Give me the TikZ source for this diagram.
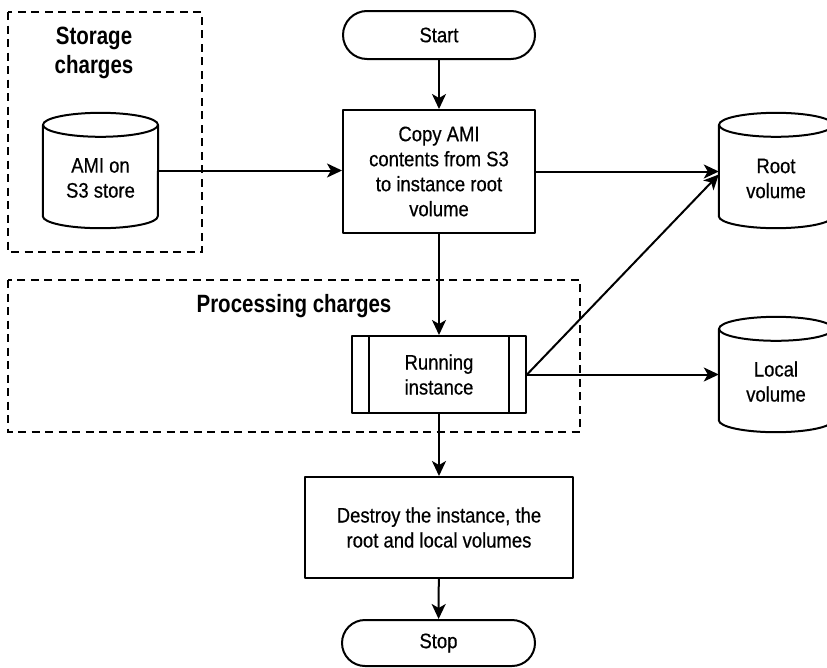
\documentclass[tikz,border=0pt]{standalone}
\usepackage{fontspec}
\setmainfont{Liberation Sans}[FakeStretch=0.88, FakeBold=0.5]
\newfontfamily\titlefont{Liberation Sans}[FakeStretch=0.82]
\usetikzlibrary{arrows.meta,shapes.misc,calc}
\newcommand\cylout[2]{%
  \draw[ln] ([yshift=-12pt]#1.north) ellipse [x radius=#2pt, y radius=12pt];
  \draw[ln] ([yshift=-12pt]#1.north west) -- ([yshift=12pt]#1.south west)
     arc[start angle=180, end angle=360, x radius=#2pt, y radius=12pt]
     -- ([yshift=-12pt]#1.north east);
}
\begin{document}
\begin{tikzpicture}[x=1pt,y=-1pt,
  ln/.style={line width=2pt, line join=round},
  txt/.style={font=\fontsize{21}{25}\selectfont, align=center, inner sep=0pt},
  ttl/.style={font=\titlefont\bfseries\fontsize{25}{29}\selectfont, align=center, inner sep=0pt},
  box/.style={ln, draw, rectangle, txt},
  pill/.style={ln, draw, rounded rectangle, txt},
  cyl/.style={draw=none, minimum width=#1, minimum height=115pt, inner sep=0pt},
  dbox/.style={line width=1.9pt, dash pattern=on 8pt off 5.5pt},
  arr/.style={ln, -{Stealth[length=15pt,width=14pt,inset=4pt]}}]
\useasboundingbox (0,0) rectangle (827,667);

% dashed regions
\draw[dbox] (8,12) rectangle (202,252);
\draw[dbox] (8,280) rectangle (580,432);
\node[ttl] (stt) at (94,53) {Storage\\charges};
\node[ttl] (ptt) at (294,306) {Processing charges};

% nodes
\node[pill, minimum width=192pt, minimum height=48pt] (start) at (439,35) {Start};
\node[box, minimum width=192pt, minimum height=123pt] (copy) at (439,171.5) {Copy AMI\\contents from S3\\to instance root\\volume};
\node[box, minimum width=174pt, minimum height=77pt] (run) at (439,374.5) {Running\\instance};
\draw[ln] ([xshift=18pt]run.north west) -- ([xshift=18pt]run.south west);
\draw[ln] ([xshift=-18pt]run.north east) -- ([xshift=-18pt]run.south east);
\node[box, minimum width=268pt, minimum height=101pt] (destroy) at (439,527.5) {Destroy the instance, the\\root and local volumes};
\node[pill, minimum width=193pt, minimum height=46pt] (stop) at (438.5,643) {Stop};

% cylinders
\node[cyl=115pt] (ami) at (100.5,170.5) {};
\cylout{ami}{57.5}
\node[txt] (amit) at (100.5,178) {AMI on\\S3 store};
\node[cyl=114pt] (root) at (776,170.5) {};
\cylout{root}{57}
\node[txt] (roott) at (776,178.5) {Root\\volume};
\node[cyl=114pt] (local) at (776,374.5) {};
\cylout{local}{57}
\node[txt] (localt) at (776,381.5) {Local\\volume};

% connectors
\draw[arr] (start) -- (copy);
\draw[arr] (ami.east) -- (ami.east -| copy.west);
\draw[arr] (copy.east) -- (copy.east -| root.west);
\draw[arr] (copy) -- (run);
\draw[arr] (run.east) -- ([yshift=-4pt]root.west);
\draw[arr] (run.east) -- (run.east -| local.west);
\draw[arr] (run) -- (destroy);
\draw[arr] (destroy) -- (stop);
\end{tikzpicture}
\end{document}
